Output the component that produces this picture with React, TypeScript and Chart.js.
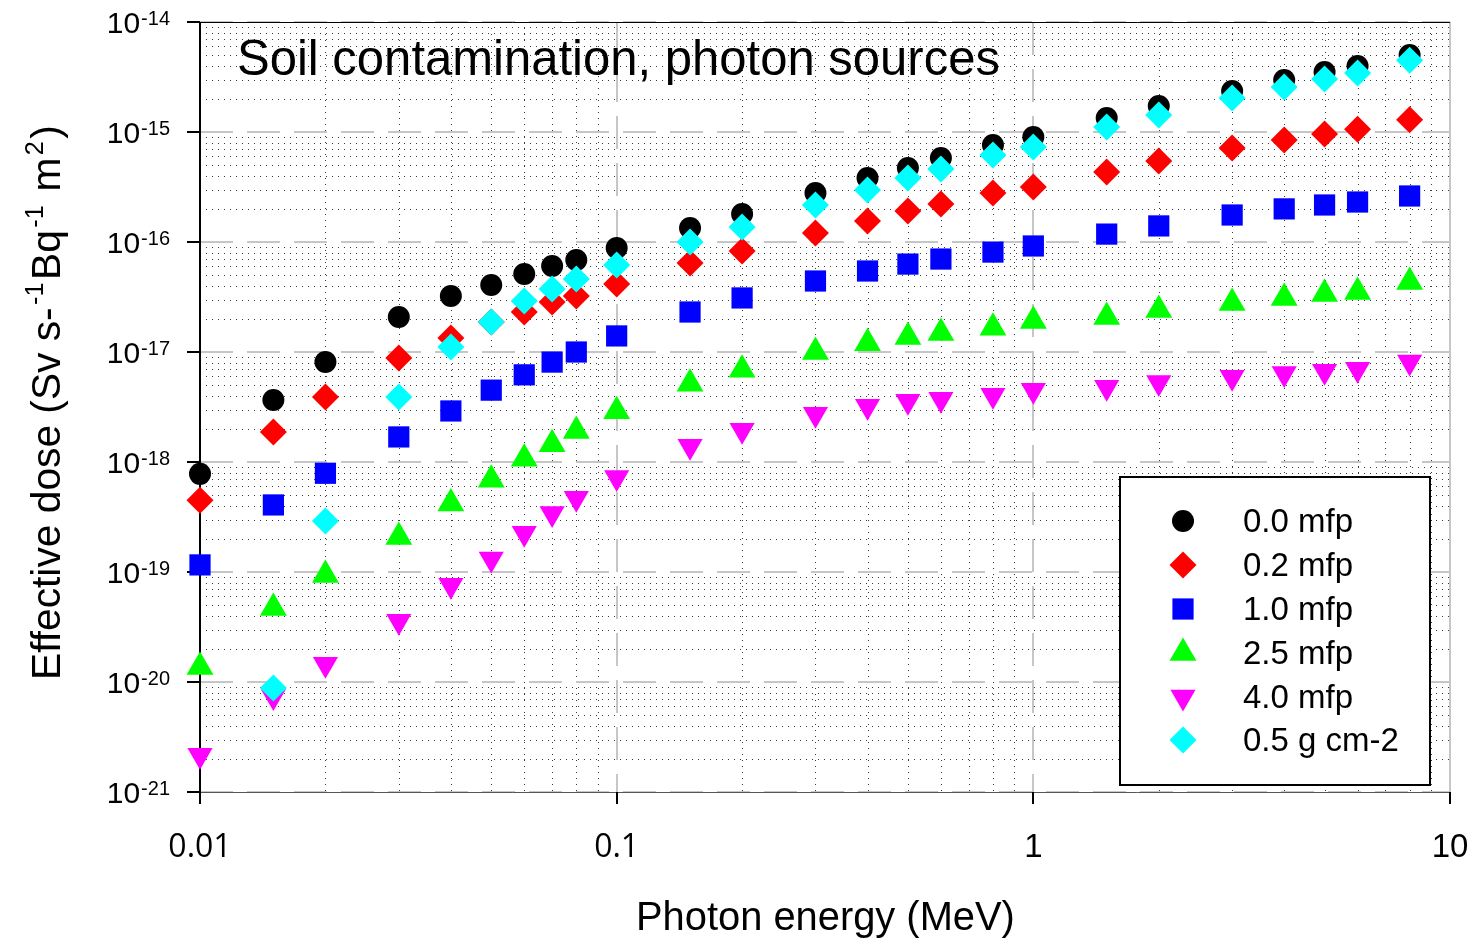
import React, { useEffect, useRef } from 'react';
import { Chart, registerables } from 'chart.js';

Chart.register(...registerables);

// ---------------- data ----------------
const energies = [0.01, 0.015, 0.02, 0.03, 0.04, 0.05, 0.06, 0.07, 0.08, 0.1, 0.15, 0.2, 0.3, 0.4, 0.5, 0.6, 0.8, 1, 1.5, 2, 3, 4, 5, 6, 8];

const dose00mfp = [7.8e-19, 3.66e-18, 8.1e-18, 2.08e-17, 3.23e-17, 4.07e-17, 5.12e-17, 6.05e-17, 6.86e-17, 8.82e-17, 1.34e-16, 1.8e-16, 2.79e-16, 3.82e-16, 4.71e-16, 5.8e-16, 7.6e-16, 9.0e-16, 1.34e-15, 1.72e-15, 2.36e-15, 2.97e-15, 3.51e-15, 3.98e-15, 5.0e-15];
const dose02mfp = [4.5e-19, 1.87e-18, 3.9e-18, 8.8e-18, 1.34e-17, 1.87e-17, 2.31e-17, 2.85e-17, 3.23e-17, 4.15e-17, 6.44e-17, 8.28e-17, 1.21e-16, 1.55e-16, 1.91e-16, 2.22e-16, 2.79e-16, 3.16e-16, 4.33e-16, 5.45e-16, 7.15e-16, 8.46e-16, 9.6e-16, 1.06e-15, 1.29e-15];
const dose10mfp = [1.16e-19, 4.07e-19, 7.9e-19, 1.69e-18, 2.91e-18, 4.5e-18, 6.2e-18, 8.1e-18, 1.0e-17, 1.4e-17, 2.31e-17, 3.1e-17, 4.42e-17, 5.45e-17, 6.3e-17, 7.0e-17, 8.1e-17, 9.2e-17, 1.18e-16, 1.4e-16, 1.76e-16, 2.0e-16, 2.17e-16, 2.31e-16, 2.62e-16];
const dose25mfp = [1.37e-20, 4.7e-20, 9.4e-20, 2.08e-19, 4.2e-19, 6.9e-19, 1.07e-18, 1.45e-18, 1.91e-18, 2.9e-18, 5.15e-18, 6.9e-18, 1.0e-17, 1.2e-17, 1.37e-17, 1.49e-17, 1.66e-17, 1.91e-17, 2.08e-17, 2.41e-17, 2.79e-17, 3.1e-17, 3.37e-17, 3.51e-17, 4.33e-17];
const dose40mfp = [2.16e-21, 7.4e-21, 1.45e-20, 3.56e-20, 7.56e-20, 1.31e-19, 2.25e-19, 3.41e-19, 4.68e-19, 7.24e-19, 1.39e-18, 1.94e-18, 2.71e-18, 3.21e-18, 3.56e-18, 3.72e-18, 4.04e-18, 4.48e-18, 4.77e-18, 5.29e-18, 5.89e-18, 6.37e-18, 6.7e-18, 6.97e-18, 8.1e-18];
const dose05gcm2 = [null, 8.8e-21, 2.91e-19, 3.9e-18, 1.11e-17, 1.87e-17, 2.91e-17, 3.74e-17, 4.61e-17, 6.18e-17, 1.0e-16, 1.37e-16, 2.17e-16, 2.97e-16, 3.82e-16, 4.61e-16, 6.18e-16, 7.3e-16, 1.11e-15, 1.43e-15, 2.04e-15, 2.57e-15, 3.03e-15, 3.44e-15, 4.5e-15];

const seriesLabels = ['0.0 mfp', '0.2 mfp', '1.0 mfp', '2.5 mfp', '4.0 mfp', '0.5 g cm-2'];
const seriesValues = [dose00mfp, dose02mfp, dose10mfp, dose25mfp, dose40mfp, dose05gcm2];

const xTickValues = [0.01, 0.1, 1, 10];
const xTickLabels = ['0.01', '0.1', '1', '10'];
const yTickExponents = [-14, -15, -16, -17, -18, -19, -20, -21];

const chartTitle = 'Soil contamination, photon sources';
const xTitle = 'Photon energy (MeV)';

// ---------------- styles ----------------
const seriesStyles = [
  { color: '#000000', style: 'circle', radius: 11, rotation: 0 },
  { color: '#ff0000', style: 'rectRot', radius: 13.5, rotation: 0 },
  { color: '#0000ff', style: 'rect', radius: 15, rotation: 0 },
  { color: '#00ff00', style: 'triangle', radius: 15.5, rotation: 0 },
  { color: '#ff00ff', style: 'triangle', radius: 14.5, rotation: 180 },
  { color: '#00ffff', style: 'rectRot', radius: 13.5, rotation: 0 },
];
const drawOrder = [5, 4, 3, 2, 1, 0];

const FONT = '"Liberation Sans", Arial, sans-serif';

function drawMarker(ctx: CanvasRenderingContext2D, s: any, x: number, y: number) {
  const r = s.radius;
  ctx.beginPath();
  if (s.style === 'circle') {
    ctx.arc(x, y, r, 0, Math.PI * 2);
  } else if (s.style === 'rectRot') {
    ctx.moveTo(x - r, y);
    ctx.lineTo(x, y - r);
    ctx.lineTo(x + r, y);
    ctx.lineTo(x, y + r);
    ctx.closePath();
  } else if (s.style === 'rect') {
    const h = r * Math.SQRT1_2;
    ctx.rect(x - h, y - h, 2 * h, 2 * h);
  } else if (s.style === 'triangle') {
    const dir = s.rotation === 180 ? -1 : 1;
    ctx.moveTo(x, y - dir * r);
    ctx.lineTo(x + r * Math.sqrt(3) / 2, y + dir * r / 2);
    ctx.lineTo(x - r * Math.sqrt(3) / 2, y + dir * r / 2);
    ctx.closePath();
  }
  ctx.fillStyle = s.color;
  ctx.fill();
}

type Piece = { t: string; sup?: boolean };
const yTitlePieces: Piece[] = [
  { t: 'Effective dose (Sv s-' },
  { t: '-1', sup: true },
  { t: 'Bq' },
  { t: '-1', sup: true },
  { t: ' m' },
  { t: '2', sup: true },
  { t: ')' },
];

function richWidth(ctx: CanvasRenderingContext2D, pieces: Piece[], f: number) {
  let w = 0;
  for (const p of pieces) {
    ctx.font = `${p.sup ? f * 0.62 : f}px ${FONT}`;
    w += ctx.measureText(p.t).width;
    if (p.sup) w += f * 0.12;
  }
  return w;
}

const decor = {
  id: 'decor',
  beforeDatasetsDraw(chart: any) {
    const { ctx, chartArea: a, scales } = chart;
    const x = scales.x, y = scales.y;
    ctx.save();
    // minor dotted grid
    ctx.strokeStyle = '#3a3a3a';
    ctx.lineWidth = 1;
    ctx.setLineDash([1, 5]);
    ctx.beginPath();
    for (let d = -2; d < 1; d++) {
      for (let m = 2; m <= 9; m++) {
        const px = Math.round(x.getPixelForValue(m * Math.pow(10, d))) + 0.5;
        ctx.moveTo(px, a.top);
        ctx.lineTo(px, a.bottom);
      }
    }
    for (let d = -21; d < -14; d++) {
      for (let m = 2; m <= 9; m++) {
        const py = Math.round(y.getPixelForValue(m * Math.pow(10, d))) + 0.5;
        ctx.moveTo(a.left, py);
        ctx.lineTo(a.right, py);
      }
    }
    ctx.stroke();
    // major dashed grid
    ctx.strokeStyle = '#c6c6c6';
    ctx.lineWidth = 2;
    ctx.setLineDash([33, 14]);
    ctx.beginPath();
    for (const v of [0.1, 1]) {
      const px = Math.round(x.getPixelForValue(v));
      ctx.moveTo(px, a.top);
      ctx.lineTo(px, a.bottom);
    }
    for (const e of yTickExponents) {
      const py = Math.round(y.getPixelForValue(Math.pow(10, e)));
      ctx.moveTo(a.left, py);
      ctx.lineTo(a.right, py);
    }
    ctx.stroke();
    ctx.setLineDash([]);
    // right border gray
    ctx.strokeStyle = '#c6c6c6';
    ctx.lineWidth = 2;
    ctx.beginPath();
    ctx.moveTo(a.right, a.top);
    ctx.lineTo(a.right, a.bottom);
    ctx.stroke();
    // top border
    ctx.strokeStyle = '#000';
    ctx.lineWidth = 1;
    ctx.beginPath();
    ctx.moveTo(a.left, a.top + 0.5);
    ctx.lineTo(a.right, a.top + 0.5);
    ctx.stroke();
    // bottom axis
    ctx.strokeStyle = '#555';
    ctx.beginPath();
    ctx.moveTo(a.left, a.bottom + 0.5);
    ctx.lineTo(a.right, a.bottom + 0.5);
    ctx.stroke();
    // left axis
    ctx.strokeStyle = '#000';
    ctx.lineWidth = 2;
    ctx.beginPath();
    ctx.moveTo(a.left, a.top);
    ctx.lineTo(a.left, a.bottom + 12);
    ctx.stroke();
    // y ticks
    ctx.beginPath();
    for (const e of yTickExponents) {
      const py = Math.round(y.getPixelForValue(Math.pow(10, e)));
      ctx.moveTo(a.left - 13, py);
      ctx.lineTo(a.left, py);
    }
    // x ticks
    for (const v of xTickValues) {
      const px = Math.round(x.getPixelForValue(v));
      ctx.moveTo(px, a.bottom);
      ctx.lineTo(px, a.bottom + 12);
    }
    ctx.stroke();
    ctx.restore();
  },
  afterDatasetsDraw(chart: any) {
    const { ctx, chartArea: a, scales } = chart;
    const x = scales.x, y = scales.y;
    ctx.save();
    ctx.fillStyle = '#000';
    // y tick labels
    for (const e of yTickExponents) {
      const py = y.getPixelForValue(Math.pow(10, e));
      ctx.font = `20px ${FONT}`;
      ctx.textAlign = 'right';
      ctx.textBaseline = 'alphabetic';
      const expStr = String(e);
      const ew = ctx.measureText(expStr).width;
      ctx.fillText(expStr, 170, py + 3);
      ctx.font = `30px ${FONT}`;
      ctx.fillText('10', 170 - ew - 1, py + 11);
    }
    // x tick labels
    ctx.textAlign = 'center';
    xTickValues.forEach((v, i) => {
      const px = x.getPixelForValue(v);
      const lbl = xTickLabels[i];
      ctx.font = lbl.indexOf('.') >= 0 ? `32px "Open Sans", ${FONT}` : `33px ${FONT}`;
      ctx.fillText(lbl, px, 857);
    });
    // x title
    ctx.font = `100px ${FONT}`;
    let w = ctx.measureText(xTitle).width;
    let f = 100 * 379 / w;
    ctx.font = `${f}px ${FONT}`;
    ctx.textAlign = 'left';
    ctx.fillText(xTitle, 636, 930);
    // chart title
    ctx.font = `100px ${FONT}`;
    w = ctx.measureText(chartTitle).width;
    f = 100 * 763 / w;
    ctx.font = `${f}px ${FONT}`;
    ctx.fillText(chartTitle, 237, 75);
    // y title
    const w100 = richWidth(ctx, yTitlePieces, 100);
    f = 100 * 555 / w100;
    ctx.save();
    ctx.translate(60, 680);
    ctx.rotate(-Math.PI / 2);
    let cx = 0;
    for (const p of yTitlePieces) {
      if (p.sup) {
        cx += f * 0.06;
        ctx.font = `${f * 0.62}px ${FONT}`;
        ctx.fillText(p.t, cx, -f * 0.42);
        cx += ctx.measureText(p.t).width + f * 0.06;
      } else {
        ctx.font = `${f}px ${FONT}`;
        ctx.fillText(p.t, cx, 0);
        cx += ctx.measureText(p.t).width;
      }
    }
    ctx.restore();
    // legend
    ctx.fillStyle = '#fff';
    ctx.fillRect(1120, 477, 310, 308);
    ctx.strokeStyle = '#000';
    ctx.lineWidth = 2;
    ctx.strokeRect(1120, 477, 310, 308);
    const rows = [521, 565, 609, 653, 697, 740];
    ctx.font = `33px ${FONT}`;
    ctx.textBaseline = 'middle';
    ctx.textAlign = 'left';
    seriesLabels.forEach((lbl, i) => {
      drawMarker(ctx, seriesStyles[i], 1183, rows[i]);
      ctx.fillStyle = '#000';
      ctx.fillText(lbl, 1243, rows[i] + 2);
    });
    ctx.restore();
  },
};

export default function App() {
  const ref = useRef<HTMLCanvasElement>(null);
  useEffect(() => {
    if (!ref.current) return;
    const datasets = seriesLabels.map((lbl, i) => ({
      label: lbl,
      data: energies
        .map((e, j) => ({ x: e, y: seriesValues[i][j] }))
        .filter((p) => p.y !== null),
      pointStyle: seriesStyles[i].style,
      pointRadius: seriesStyles[i].radius,
      pointRotation: seriesStyles[i].rotation,
      backgroundColor: seriesStyles[i].color,
      borderColor: seriesStyles[i].color,
      pointBorderWidth: 0,
      showLine: false,
      clip: false,
      order: drawOrder[i],
    }));
    const chart = new Chart(ref.current, {
      type: 'scatter',
      data: { datasets } as any,
      options: {
        responsive: false,
        animation: false,
        devicePixelRatio: 1,
        layout: { padding: { top: 22, right: 28, left: 0, bottom: 0 } },
        plugins: { legend: { display: false }, tooltip: { enabled: false }, title: { display: false } },
        events: [],
        scales: {
          x: {
            type: 'logarithmic',
            min: 0.01,
            max: 10,
            ticks: { display: false },
            grid: { display: false },
            border: { display: false },
            afterFit: (s: any) => { s.height = 151; },
          },
          y: {
            type: 'logarithmic',
            min: 1e-21,
            max: 1e-14,
            ticks: { display: false },
            grid: { display: false },
            border: { display: false },
            afterFit: (s: any) => { s.width = 200; },
          },
        },
      } as any,
      plugins: [decor],
    });
    return () => chart.destroy();
  }, []);
  return (
    <div style={{ position: 'fixed', left: 0, top: 0, width: 1478, height: 943, background: '#fff' }}>
      <canvas ref={ref} width={1478} height={943} style={{ display: 'block' }} />
    </div>
  );
}
